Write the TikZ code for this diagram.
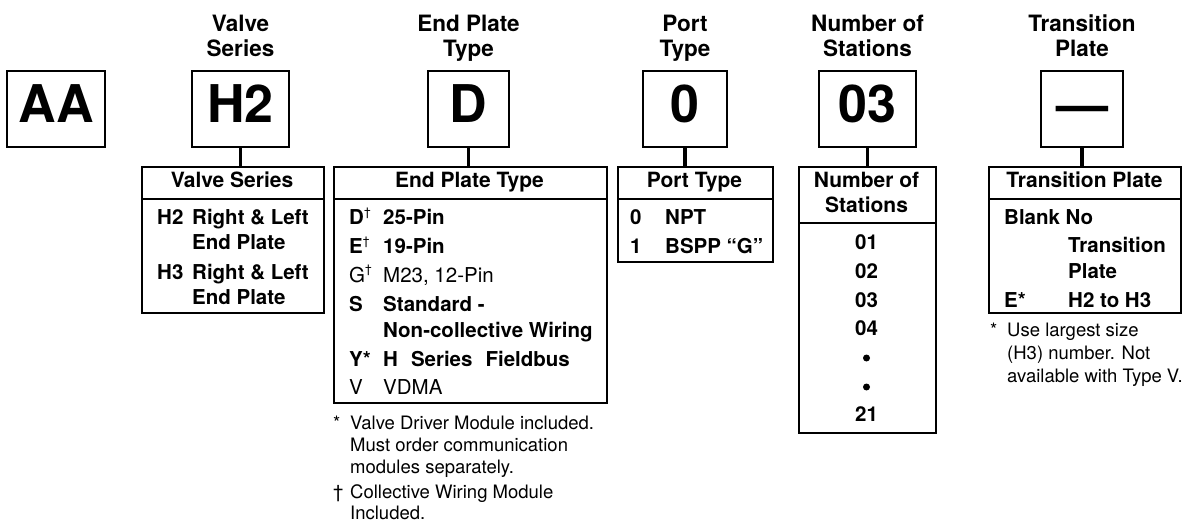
\documentclass[tikz,border=0pt]{standalone}
\usepackage{fontspec}
\setmainfont{TeX Gyre Heros}
\newcommand\dgr{\raisebox{0.42em}{\fontsize{12}{12}\selectfont\mdseries †}}
\begin{document}
\begin{tikzpicture}[x=1pt,y=-1pt,
  codebox/.style={draw, line width=2pt, inner sep=0pt, minimum height=76pt,
    text height=40pt, text depth=12pt, font=\fontsize{52}{52}\selectfont\bfseries},
  tbl/.style={draw, line width=2pt, inner sep=0pt, anchor=north west},
  tline/.style={line width=2pt},
  stem/.style={line width=3.5pt},
  ttl/.style={font=\fontsize{22.5}{25}\selectfont\bfseries, align=center, anchor=base, inner sep=0pt},
  hd/.style={font=\fontsize{21}{25}\selectfont\bfseries, align=center, anchor=base, inner sep=0pt},
  rowb/.style={font=\fontsize{20.5}{25}\selectfont\bfseries, anchor=base west, inner sep=0pt},
  rowr/.style={font=\fontsize{20.5}{25}\selectfont, anchor=base west, inner sep=0pt},
  rowc/.style={font=\fontsize{20.5}{25}\selectfont\bfseries, anchor=base, inner sep=0pt},
  dotmark/.style={circle, fill, inner sep=0pt, minimum size=7pt},
  note/.style={font=\fontsize{18.5}{22}\selectfont, anchor=base west, inner sep=0pt}]
\useasboundingbox (0,0) rectangle (1182,521);

% titles (anchor base = last line)
\node[ttl] (t1) at (240.5,57) {Valve\\Series};
\node[ttl] (t2) at (468.5,57) {End Plate\\Type};
\node[ttl] (t3) at (685,57) {Port\\Type};
\node[ttl] (t4) at (867.5,57) {Number of\\Stations};
\node[ttl] (t5) at (1082,57) {Transition\\Plate};

% code boxes
\node[codebox, minimum width=98pt] (aa) at (56,109) {AA};
\node[codebox, minimum width=97pt] (h2) at (240.5,109) {H2};
\node[codebox, minimum width=81pt] (d) at (468.5,109) {D};
\node[codebox, minimum width=84pt] (p0) at (685,109) {0};
\node[codebox, minimum width=97pt] (n03) at (867.5,109) {03};
\node[codebox, minimum width=82pt] (tp) at (1082,109) {—};

% tables
\node[tbl, minimum width=182pt, minimum height=146pt] (vs) at (141,166) {};
\node[tbl, minimum width=273pt, minimum height=236pt] (ept) at (333,166) {};
\node[tbl, minimum width=155pt, minimum height=95pt] (pt) at (617,166) {};
\node[tbl, minimum width=137pt, minimum height=266pt] (ns) at (798,166) {};
\node[tbl, minimum width=192pt, minimum height=146pt] (tpt) at (988,166) {};

\draw[tline] (vs.west |- 0,199) -- (vs.east |- 0,199);
\draw[tline] (ept.west |- 0,199) -- (ept.east |- 0,199);
\draw[tline] (pt.west |- 0,199) -- (pt.east |- 0,199);
\draw[tline] (ns.west |- 0,223) -- (ns.east |- 0,223);
\draw[tline] (tpt.west |- 0,199) -- (tpt.east |- 0,199);

% stems
\draw[stem] (h2.south) -- (h2.south |- vs.north);
\draw[stem] (d.south) -- (d.south |- ept.north);
\draw[stem] (p0.south) -- (p0.south |- pt.north);
\draw[stem] (n03.south) -- (n03.south |- ns.north);
\draw[stem] (tp.south) -- (tp.south |- tpt.north);

% Valve Series table
\node[hd] (vsh) at (232,188) {Valve Series};
\node[rowb] (vs1) at (157,225) {H2};
\node[rowb] (vs1d) at (192,225) {Right \& Left};
\node[rowb] (vs1e) at (192,250) {End Plate};
\node[rowb] (vs2) at (157,279) {H3};
\node[rowb] (vs2d) at (192,279) {Right \& Left};
\node[rowb] (vs2e) at (192,304) {End Plate};

% End Plate Type table
\node[hd] (epth) at (469.5,188) {End Plate Type};
\node[rowb] (e1) at (349,225) {D\dgr};
\node[rowb] (e1d) at (383,225) {25-Pin};
\node[rowb] (e2) at (349,254) {E\dgr};
\node[rowb] (e2d) at (383,254) {19-Pin};
\node[rowr] (e3) at (349,282) {G\dgr};
\node[rowr] (e3d) at (383,282) {M23, 12-Pin};
\node[rowb] (e4) at (349,311) {S};
\node[rowb] (e4d) at (383,311) {Standard -};
\node[rowb] (e4e) at (383,337) {Non-collective Wiring};
\node[rowb] (e5) at (349,366) {Y*};
\node[rowb] (e5d) at (383,366) {H\hspace{13pt}Series\hspace{13pt}Fieldbus};
\node[rowr] (e6) at (349,394) {V};
\node[rowr] (e6d) at (383,394) {VDMA};

\node[note] (f1s) at (333,429) {*};
\node[note] (f1a) at (350,429) {Valve Driver Module included.};
\node[note] (f1b) at (350,451) {Must order communication};
\node[note] (f1c) at (350,473) {modules separately.};
\node[note] (f2s) at (333,498) {†};
\node[note] (f2a) at (350,498) {Collective Wiring Module};
\node[note] (f2b) at (350,519) {Included.};

% Port Type table
\node[hd] (pth) at (694.5,188) {Port Type};
\node[rowb] (p1) at (630,225) {0};
\node[rowb] (p1d) at (665,225) {NPT};
\node[rowb] (p2) at (630,253) {1};
\node[rowb] (p2d) at (665,253) {BSPP “G”};

% Number of Stations table
\node[hd] (nsh) at (866.5,213) {Number of\\Stations};
\node[rowc] (n1) at (866.5,249) {01};
\node[rowc] (n2) at (866.5,278) {02};
\node[rowc] (n3) at (866.5,307) {03};
\node[rowc] (n4) at (866.5,335) {04};
\node[dotmark] (n5) at (866.5,358) {};
\node[dotmark] (n6) at (866.5,387) {};
\node[rowc] (n7) at (866.5,421) {21};

% Transition Plate table
\node[hd] (tph) at (1084.5,188) {Transition Plate};
\node[rowb] (tp1) at (1004,225) {Blank No};
\node[rowb] (tp1d) at (1068,252) {Transition};
\node[rowb] (tp1e) at (1068,278) {Plate};
\node[rowb] (tp2) at (1004,307) {E*};
\node[rowb] (tp2d) at (1068,307) {H2 to H3};

\node[note] (g1s) at (990,336) {*};
\node[note] (g1a) at (1007,336) {Use largest size};
\node[note] (g1b) at (1007,359) {(H3) number. Not};
\node[note] (g1c) at (1007,382) {available with Type V.};
\end{tikzpicture}
\end{document}
